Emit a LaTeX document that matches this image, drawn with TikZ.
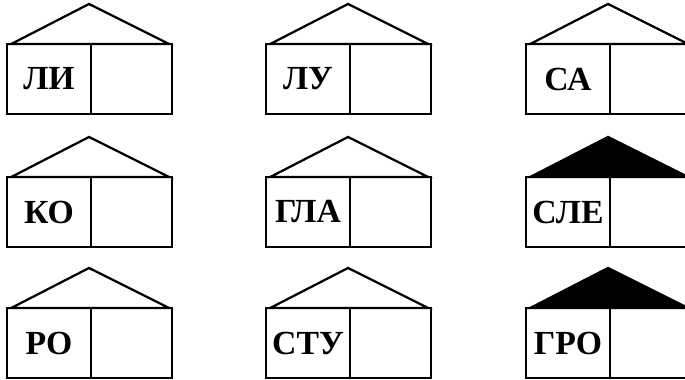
\documentclass[tikz,border=0pt]{standalone}
\usepackage{fontspec}
\setmainfont{Liberation Serif}
\usepackage{tikz}
\usetikzlibrary{positioning, calc}
\tikzset{
  %% ---- house parts ----
  wordcell/.style  = {rectangle, draw=black, line width=1.6pt,
                      minimum width=2.1cm, minimum height=1.75cm,
                      inner sep=0pt, outer sep=0pt, anchor=north west,
                      font=\fontsize{24}{26}\selectfont\bfseries},
  emptycell/.style = {rectangle, draw=black, line width=1.6pt,
                      minimum width=2.025cm, minimum height=1.75cm,
                      inner sep=0pt, outer sep=0pt},
  roof/.style      = {draw=black, line width=1.6pt, line join=miter,
                      fill=#1},
  roof/.default    = white,
}

\begin{document}
\begin{tikzpicture}[x=0.025cm, y=-0.025cm]

  \clip (0,0) rectangle (685,380);
  \fill[white] (0,0) rectangle (685,380);

  %% houses: left edge / top edge / syllable / roof colour
  \foreach \hx/\hy/\word/\rooffill [count=\i] in
      {7/44/ЛИ/white, 266/44/ЛУ/white, 526/44/СА/white,
       7/177/КО/white, 266/177/ГЛА/white, 526/177/СЛЕ/black,
       7/308/РО/white, 266/308/СТУ/white, 526/308/ГРО/black}{
    %% two rooms
    \node[wordcell] (word\i) at (\hx,\hy) {\word};
    \node[emptycell, right=0pt of word\i] (room\i) {};
    %% roof
    \coordinate (apex\i) at ($(word\i.north west)+(82,-40)$);
    \draw[roof=\rooffill]
      ([xshift=3pt]word\i.north west) -- (apex\i)
      -- ([xshift=-2pt]room\i.north east) -- cycle;
  }

\end{tikzpicture}
\end{document}
